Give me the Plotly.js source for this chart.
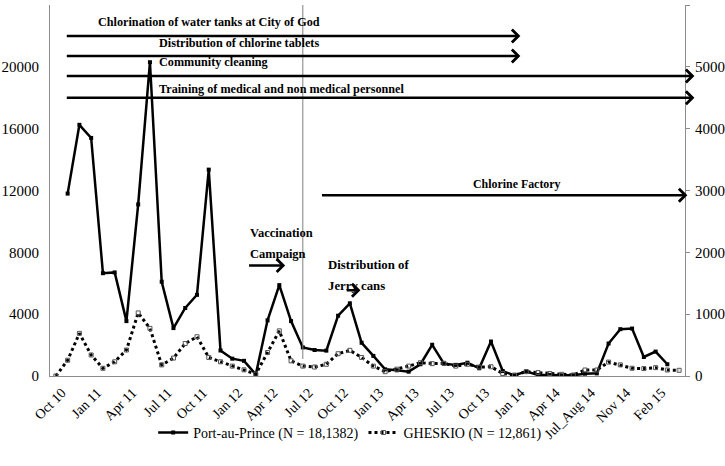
<!DOCTYPE html>
<html>
<head>
<meta charset="utf-8">
<script src="https://cdn.plot.ly/plotly-3.0.1.min.js"></script>
<style>
  html, body { margin: 0; padding: 0; background: #fff; }
  #chart { width: 725px; height: 466px; }
</style>
</head>
<body>
<div id="chart"></div>
<script>
// mois, Oct 10 -> Apr 15 (Jul et Aug 14 regroupés)
var months = [
    'Oct 10', 'Nov 10', 'Dec 10', 'Jan 11', 'Feb 11', 'Mar 11', 'Apr 11', 'May 11', 'Jun 11',
    'Jul 11', 'Aug 11', 'Sep 11', 'Oct 11', 'Nov 11', 'Dec 11', 'Jan 12', 'Feb 12', 'Mar 12',
    'Apr 12', 'May 12', 'Jun 12', 'Jul 12', 'Aug 12', 'Sep 12', 'Oct 12', 'Nov 12', 'Dec 12',
    'Jan 13', 'Feb 13', 'Mar 13', 'Apr 13', 'May 13', 'Jun 13', 'Jul 13', 'Aug 13', 'Sep 13',
    'Oct 13', 'Nov 13', 'Dec 13', 'Jan 14', 'Feb 14', 'Mar 14', 'Apr 14', 'May 14', 'Jun 14',
    'Jul_Aug 14', 'Sep 14', 'Oct 14', 'Nov 14', 'Dec 14', 'Jan 15', 'Feb 15', 'Mar 15', 'Apr 15'
];

// Port-au-Prince (axe gauche)
var papCases = [
    null, 11800, 16250, 15400, 6650, 6700, 3550, 11100, 20300,
    6100, 3100, 4400, 5250, 13350, 1650, 1120, 980, 100,
    3600, 5880, 3550, 1850, 1680, 1640, 3900, 4700, 2150,
    1300, 430, 370, 280, 760, 2020, 800, 720, 860,
    500, 2230, 320, 40, 300, 60, 70, 40, 50,
    150, 170, 2100, 3030, 3070, 1230, 1580, 760, null
];

// GHESKIO (axe droit)
var gheskioCases = [
    0, 255, 690, 340, 125, 230, 420, 1020, 770,
    180, 290, 525, 635, 300, 230, 160, 100, 30,
    380, 730, 245, 160, 145, 190, 360, 415, 300,
    160, 70, 110, 160, 215, 200, 205, 160, 190,
    145, 150, 40, 15, 70, 55, 40, 27, 16,
    97, 97, 225, 180, 125, 120, 135, 97, 92
];

var legendNames = ['Port-au-Prince (N = 18,1382)', 'GHESKIO (N = 12,861)'];

var interventions = [
    'Chlorination of water tanks at City of God',
    'Distribution of chlorine tablets',
    'Community cleaning',
    'Training of medical and non medical personnel',
    'Chlorine Factory',
    'Vaccination<br>Campaign',
    'Distribution of<br>Jerry cans'
];

var serif = '"Liberation Serif", "Times New Roman", serif';

// position en fraction du domaine à partir d'un indice de catégorie
function frac(i) {
    return (i + 0.5) / months.length;
}

var tickVals = months.filter(function (m, i) { return i % 3 === 0; });

var data = [
    {
        x: months,
        y: papCases,
        name: legendNames[0],
        type: 'scatter',
        mode: 'lines+markers',
        line: {color: '#000', width: 2.5},
        marker: {symbol: 'square', size: 4, color: '#000'},
        connectgaps: false
    },
    {
        x: months,
        y: gheskioCases,
        name: legendNames[1],
        type: 'scatter',
        mode: 'lines+markers',
        yaxis: 'y2',
        line: {color: '#000', width: 3, dash: 'dot'},
        marker: {symbol: 'square-open', size: 4, color: '#555', line: {width: 1}}
    }
];

// flèches : [début, fin, niveau sur l'axe gauche]
var arrows = [
    [0.8, 39.5, 22000],
    [0.8, 39.5, 20700],
    [0.8, 54.3, 19400],
    [0.8, 54.3, 18000],
    [22.5, 53.7, 11700],
    [16.3, 19.5, 7150],
    [24.6, 25.9, 5550]
];

var annotations = arrows.map(function (a) {
    return {
        xref: 'x domain', yref: 'y', axref: 'x domain', ayref: 'y',
        x: frac(a[1]), y: a[2], ax: frac(a[0]), ay: a[2],
        text: '', showarrow: true,
        arrowhead: 4, arrowsize: 1, arrowwidth: 2.5, arrowcolor: '#000'
    };
});

// libellés des interventions : [indice, niveau, alignement, taille]
var labelPos = [
    [3.4, 22900, 'left', 12.2],
    [8.6, 21550, 'left', 12.2],
    [8.6, 20300, 'left', 12.2],
    [8.6, 18550, 'left', 12.2],
    [39.2, 12400, 'center', 11.9],
    [16.3, 9270, 'left', 12.5],
    [23.0, 7200, 'left', 12.8]
];

labelPos.forEach(function (p, k) {
    interventions[k].split('<br>').forEach(function (line, j) {
        annotations.push({
            xref: 'x domain', yref: 'y',
            x: frac(p[0]), y: p[1], yshift: -21 * j,
            xanchor: p[2], yanchor: 'middle',
            text: '<b>' + line + '</b>', showarrow: false,
            font: {family: serif, size: p[3], color: '#000'}
        });
    });
});

var layout = {
    width: 725,
    height: 466,
    margin: {l: 50, r: 40, t: 5, b: 90},
    paper_bgcolor: '#fff',
    plot_bgcolor: '#fff',
    font: {family: serif, size: 14, color: '#000'},
    showlegend: true,
    legend: {
        orientation: 'h', xref: 'container', yref: 'container',
        x: 0.483, xanchor: 'center', y: 0.071, yanchor: 'middle',
        bgcolor: 'rgba(0,0,0,0)',
        font: {family: serif, size: 14}
    },
    xaxis: {
        type: 'category',
        range: [-0.5, months.length - 0.5],
        automargin: false,
        tickmode: 'array',
        tickvals: tickVals,
        ticktext: tickVals,
        tickangle: -45,
        ticks: '',
        ticklabelshift: 6,
        ticklabelstandoff: 2,
        showgrid: false,
        showline: true,
        linecolor: '#8c8c8c',
        linewidth: 1,
        tickfont: {family: serif, size: 14}
    },
    yaxis: {
        range: [0, 24000],
        dtick: 4000,
        tickformat: 'd',
        automargin: false,
        showgrid: false,
        zeroline: false,
        showline: true,
        linecolor: '#8c8c8c',
        ticks: '',
        ticklabelstandoff: 7,
        tickfont: {family: serif, size: 15}
    },
    yaxis2: {
        range: [0, 6000],
        dtick: 1000,
        tickformat: 'd',
        automargin: false,
        overlaying: 'y',
        side: 'right',
        showgrid: false,
        zeroline: false,
        showline: true,
        linecolor: '#8c8c8c',
        ticks: 'outside',
        ticklen: 4,
        tickcolor: '#8c8c8c',
        ticklabelstandoff: 2,
        tickfont: {family: serif, size: 15}
    },
    shapes: [
        {
            type: 'line', xref: 'x', yref: 'y',
            x0: 'Jul 12', x1: 'Jul 12', y0: 1100, y1: 24000,
            line: {color: '#7f7f7f', width: 1}
        }
    ],
    annotations: annotations
};

Plotly.newPlot('chart', data, layout, {displayModeBar: false, staticPlot: true});
</script>
</body>
</html>
